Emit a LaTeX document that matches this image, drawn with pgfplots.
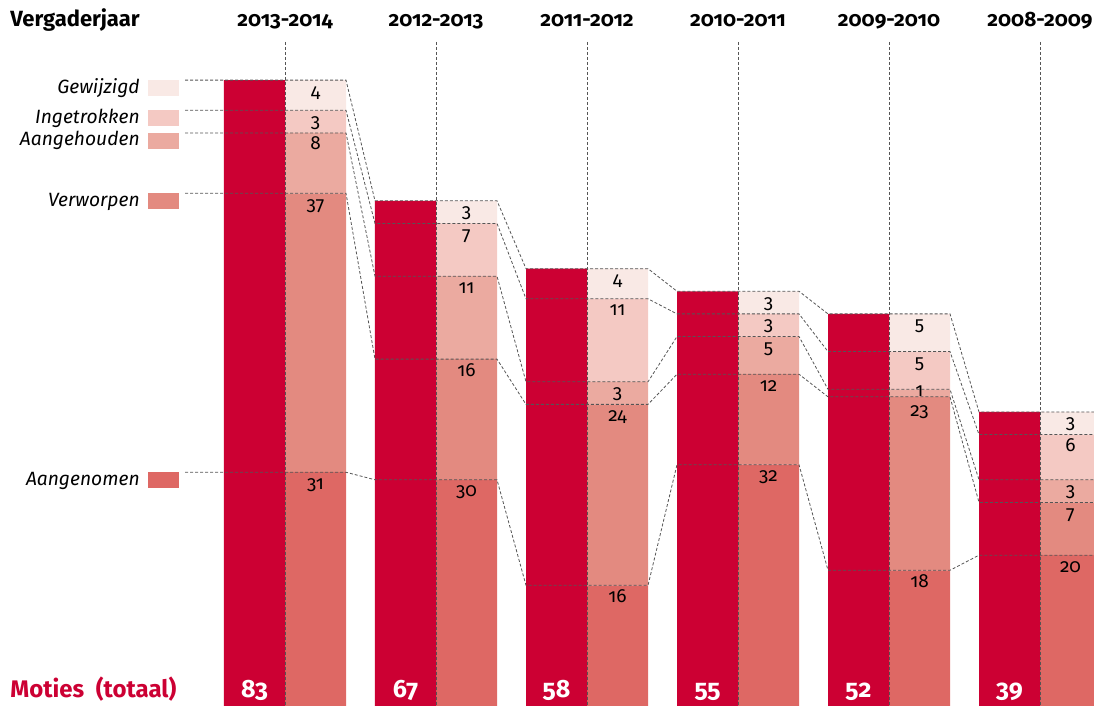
\documentclass[border=0pt]{standalone}
\usepackage{fontspec}
\setmainfont{Fira Sans}[Numbers=OldStyle]
\usepackage{pgfplots}
\pgfplotsset{compat=1.18}
\usepackage{pgfplotstable}
\definecolor{crim}{HTML}{CC0033}
\definecolor{cA}{HTML}{DE6864}
\definecolor{cV}{HTML}{E38A80}
\definecolor{cAh}{HTML}{EBAAA0}
\definecolor{cI}{HTML}{F4C9C3}
\definecolor{cG}{HTML}{F9E9E5}
\definecolor{dashc}{HTML}{555555}

\pgfplotstableread{
x A V Ah I G T
0 31 37 8 3 4 83
1 30 16 11 7 3 67
2 16 24 3 11 4 58
3 32 12 5 3 3 55
4 18 23 1 5 5 52
5 20 7 3 6 3 39
}\data

\pgfplotsset{base/.style={width=547pt,height=353pt,scale only axis,
  xmin=-1.8874,xmax=5.3576,ymin=0,ymax=93.63,hide axis,clip=false}}
\tikzset{dl/.style={draw=dashc, line width=0.4pt, dash pattern=on 1.5pt off 1pt},
  val/.style={anchor=base, font=\fontsize{9.5}{10}\selectfont, text=black, inner sep=0pt},
  leg/.style={anchor=base east, font=\fontsize{9.6}{10}\selectfont\itshape, inner sep=0pt},
  hd/.style={anchor=base, font=\fontsize{10.4}{12}\selectfont\bfseries, inner sep=0pt},
  tot/.style={anchor=base, font=\fontsize{12.5}{14}\selectfont\bfseries, text=white, inner sep=0pt}}

\begin{document}
\begin{tikzpicture}
\begin{axis}[base, ybar stacked, bar width=0.404]
\addplot[fill=cA,draw=none] table[x expr=\thisrow{x}+0.202,y=A]{\data};
\addplot[fill=cV,draw=none] table[x expr=\thisrow{x}+0.202,y=V]{\data};
\addplot[fill=cAh,draw=none] table[x expr=\thisrow{x}+0.202,y=Ah]{\data};
\addplot[fill=cI,draw=none] table[x expr=\thisrow{x}+0.202,y=I]{\data};
\addplot[fill=cG,draw=none] table[x expr=\thisrow{x}+0.202,y=G]{\data};
\end{axis}
\begin{axis}[base]
\addplot[ybar,bar width=0.404,bar shift=0pt,fill=crim,draw=none] table[x expr=\thisrow{x}-0.202,y=T]{\data};
\pgfplotsinvokeforeach{0,...,5}{\draw[dl] (axis cs:#1,88.06) -- (axis cs:#1,0);}
% connecting dashed lines
\addplot[sharp plot,no marks,dl] coordinates {(-0.662,31)(-0.404,31)(0.404,31)(0.596,30)(1.404,30)(1.596,16)(2.404,16)(2.596,32)(3.404,32)(3.596,18)(4.404,18)(4.596,20)(5.404,20)};
\addplot[sharp plot,no marks,dl] coordinates {(-0.662,68)(-0.404,68)(0.404,68)(0.596,46)(1.404,46)(1.596,40)(2.404,40)(2.596,44)(3.404,44)(3.596,41)(4.404,41)(4.596,27)(5.404,27)};
\addplot[sharp plot,no marks,dl] coordinates {(-0.662,76)(-0.404,76)(0.404,76)(0.596,57)(1.404,57)(1.596,43)(2.404,43)(2.596,49)(3.404,49)(3.596,42)(4.404,42)(4.596,30)(5.404,30)};
\addplot[sharp plot,no marks,dl] coordinates {(-0.662,79)(-0.404,79)(0.404,79)(0.596,64)(1.404,64)(1.596,54)(2.404,54)(2.596,52)(3.404,52)(3.596,47)(4.404,47)(4.596,36)(5.404,36)};
\addplot[sharp plot,no marks,dl] coordinates {(-0.662,83)(-0.404,83)(0.404,83)(0.596,67)(1.404,67)(1.596,58)(2.404,58)(2.596,55)(3.404,55)(3.596,52)(4.404,52)(4.596,39)(5.404,39)};
% legend
\fill[cG] (axis cs:-0.907,83) rectangle (axis cs:-0.702,80.88);
\fill[cI] (axis cs:-0.907,79) rectangle (axis cs:-0.702,76.88);
\fill[cAh] (axis cs:-0.907,76) rectangle (axis cs:-0.702,73.88);
\fill[cV] (axis cs:-0.907,68) rectangle (axis cs:-0.702,65.88);
\fill[cA] (axis cs:-0.907,31) rectangle (axis cs:-0.702,28.88);
\node[leg] at (axis cs:-0.96,81.28) {Gewijzigd};
\node[leg] at (axis cs:-0.96,77.28) {Ingetrokken};
\node[leg] at (axis cs:-0.96,74.28) {Aangehouden};
\node[leg] at (axis cs:-0.96,66.28) {Verworpen};
\node[leg] at (axis cs:-0.96,29.28) {Aangenomen};
% header
\node[hd, anchor=base west, font=\fontsize{11}{12}\selectfont\bfseries] at (axis cs:-1.821,90.05) {Vergaderjaar};
\node[hd] at (axis cs:0,90.05) {2013-2014};
\node[hd] at (axis cs:1,90.05) {2012-2013};
\node[hd] at (axis cs:2,90.05) {2011-2012};
\node[hd] at (axis cs:3,90.05) {2010-2011};
\node[hd] at (axis cs:4,90.05) {2009-2010};
\node[hd] at (axis cs:5,90.05) {2008-2009};
% bottom
\node[anchor=base west, font=\fontsize{12}{14}\selectfont\bfseries, text=crim, inner sep=0pt] at (axis cs:-1.821,1.19) {Moties\hspace{0.25em} (totaal)};
\node[tot] at (axis cs:-0.202,1.19) {83};
\node[tot] at (axis cs:0.798,1.19) {67};
\node[tot] at (axis cs:1.798,1.19) {58};
\node[tot] at (axis cs:2.798,1.19) {55};
\node[tot] at (axis cs:3.798,1.19) {52};
\node[tot] at (axis cs:4.798,1.19) {39};
% values
\node[val] at (axis cs:0.202,28.75) {31};
\node[val] at (axis cs:0.202,65.75) {37};
\node[val] at (axis cs:0.202,73.75) {8};
\node[val] at (axis cs:0.202,76.75) {3};
\node[val] at (axis cs:0.202,80.75) {4};
\node[val] at (axis cs:1.202,27.75) {30};
\node[val] at (axis cs:1.202,43.75) {16};
\node[val] at (axis cs:1.202,54.75) {11};
\node[val] at (axis cs:1.202,61.75) {7};
\node[val] at (axis cs:1.202,64.75) {3};
\node[val] at (axis cs:2.202,13.75) {16};
\node[val] at (axis cs:2.202,37.75) {24};
\node[val] at (axis cs:2.202,40.75) {3};
\node[val] at (axis cs:2.202,51.75) {11};
\node[val] at (axis cs:2.202,55.75) {4};
\node[val] at (axis cs:3.202,29.75) {32};
\node[val] at (axis cs:3.202,41.75) {12};
\node[val] at (axis cs:3.202,46.75) {5};
\node[val] at (axis cs:3.202,49.75) {3};
\node[val] at (axis cs:3.202,52.75) {3};
\node[val] at (axis cs:4.202,15.75) {18};
\node[val] at (axis cs:4.202,38.4) {23};
\node[val] at (axis cs:4.202,41.0) {1};
\node[val] at (axis cs:4.202,44.75) {5};
\node[val] at (axis cs:4.202,49.75) {5};
\node[val] at (axis cs:5.202,17.75) {20};
\node[val] at (axis cs:5.202,24.75) {7};
\node[val] at (axis cs:5.202,27.75) {3};
\node[val] at (axis cs:5.202,33.75) {6};
\node[val] at (axis cs:5.202,36.75) {3};
\end{axis}
\pgfresetboundingbox
\path[use as bounding box] (current axis.south west) rectangle (current axis.north east);
\end{tikzpicture}
\end{document}
